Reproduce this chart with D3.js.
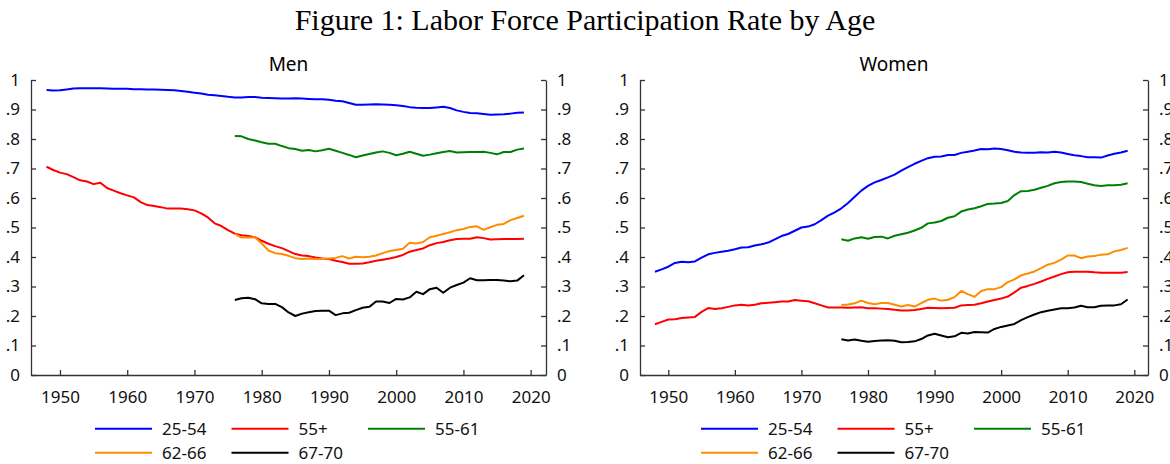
<!DOCTYPE html>
<html><head><meta charset="utf-8">
<script src="https://cdn.jsdelivr.net/npm/d3@7"></script>
<style>body{margin:0;background:#fff}svg{display:block}</style>
</head><body><svg id="c" width="1170" height="464"></svg>
<script>
const yTicks = [0,.1,.2,.3,.4,.5,.6,.7,.8,.9,1];
const yTickLabels = ["0",".1",".2",".3",".4",".5",".6",".7",".8",".9","1"];
const xTicks = [1950,1960,1970,1980,1990,2000,2010,2020];
const seriesNames = ["25-54","55+","55-61","62-66","67-70"];
const seriesColors = ["#0000ff","#ff0000","#008000","#ff8c00","#000000"];
const panelTitles = ["Men","Women"];
const startFull = 1948, startAge = 1976;

const men2554 = [.966,.964,.965,.968,.971,.972,.972,.972,.972,.971,.970,.970,.970,.969,.969,.968,.968,.967,.966,.965,.963,.960,.957,.954,.950,.948,.946,.943,.941,.941,.942,.942,.940,.939,.938,.937,.937,.938,.937,.936,.935,.935,.933,.930,.928,.922,.916,.916,.917,.918,.917,.916,.914,.912,.908,.906,.905,.905,.907,.909,.905,.897,.892,.888,.887,.885,.882,.883,.884,.886,.889,.890];
const men55p = [.706,.695,.686,.681,.671,.660,.656,.647,.652,.634,.625,.616,.609,.602,.586,.576,.573,.569,.564,.564,.564,.562,.558,.548,.534,.514,.505,.491,.479,.474,.471,.467,.455,.445,.437,.430,.420,.410,.405,.403,.398,.395,.393,.387,.383,.377,.377,.378,.382,.387,.391,.395,.400,.407,.418,.424,.429,.440,.447,.451,.457,.461,.462,.462,.467,.464,.459,.460,.461,.461,.461,.462];
const men5561 = [.810,.809,.800,.795,.789,.784,.784,.776,.769,.766,.760,.763,.758,.762,.767,.760,.753,.746,.738,.744,.749,.754,.758,.753,.745,.750,.757,.750,.743,.747,.752,.756,.759,.754,.755,.756,.756,.757,.753,.748,.756,.756,.764,.768];
const men6266 = [.478,.466,.466,.467,.446,.422,.413,.410,.404,.396,.393,.395,.393,.393,.395,.397,.403,.395,.401,.399,.401,.405,.413,.420,.424,.428,.448,.446,.451,.467,.472,.478,.484,.491,.495,.502,.504,.492,.501,.509,.512,.525,.532,.540];
const men6770 = [.254,.260,.262,.257,.243,.241,.241,.230,.212,.200,.208,.213,.217,.218,.218,.203,.209,.211,.220,.228,.231,.249,.249,.244,.258,.256,.263,.282,.274,.291,.296,.279,.296,.305,.313,.328,.321,.321,.322,.322,.320,.318,.320,.338];

const women2554 = [.350,.358,.367,.380,.384,.382,.385,.398,.409,.414,.418,.421,.426,.432,.433,.439,.443,.449,.460,.471,.478,.489,.500,.503,.511,.525,.540,.551,.565,.583,.604,.625,.641,.653,.661,.670,.679,.693,.705,.716,.726,.735,.740,.741,.746,.746,.753,.757,.761,.766,.765,.768,.766,.762,.757,.754,.753,.753,.755,.754,.757,.754,.749,.745,.742,.738,.738,.737,.744,.750,.754,.760];
const women55p = [.172,.180,.188,.189,.193,.195,.197,.214,.227,.224,.226,.231,.236,.238,.236,.238,.243,.245,.247,.249,.249,.254,.252,.250,.243,.236,.229,.229,.229,.228,.229,.230,.226,.226,.225,.224,.221,.219,.219,.220,.224,.228,.227,.226,.227,.228,.236,.237,.238,.243,.249,.254,.259,.266,.280,.296,.302,.309,.317,.326,.334,.342,.348,.350,.350,.350,.348,.347,.347,.347,.347,.349];
const women5561 = [.460,.455,.463,.467,.462,.468,.469,.463,.472,.477,.482,.490,.499,.514,.517,.522,.533,.538,.554,.561,.565,.572,.580,.581,.583,.590,.610,.623,.624,.628,.635,.641,.650,.654,.656,.656,.654,.648,.643,.641,.643,.643,.645,.650];
const women6266 = [.237,.239,.243,.252,.244,.240,.244,.244,.238,.232,.237,.232,.244,.255,.259,.252,.255,.264,.285,.274,.265,.285,.291,.291,.298,.315,.324,.338,.344,.351,.362,.374,.380,.391,.405,.405,.396,.402,.403,.408,.409,.419,.424,.431];
const women6770 = [.121,.117,.120,.116,.113,.115,.117,.118,.116,.111,.112,.114,.122,.134,.140,.134,.128,.131,.143,.141,.146,.145,.144,.156,.163,.168,.173,.186,.196,.205,.213,.218,.222,.226,.226,.229,.235,.230,.230,.235,.236,.236,.240,.256];

const panelsData = [
  [men2554, men55p, men5561, men6266, men6770],
  [women2554, women55p, women5561, women6266, women6770]
];
const seriesStart = [startFull, startFull, startAge, startAge, startAge];

const svg = d3.select("#c");
const sans = "'Noto Sans', 'Open Sans', sans-serif";

const title = svg.append("text").attr("x",585).attr("y",30).attr("text-anchor","middle")
  .style("font-family","'Liberation Serif', 'DejaVu Serif', serif").style("font-size","26px").style("fill","#000")
  .text("Figure 1: Labor Force Participation Rate by Age");
const tw = title.node().getComputedTextLength();
title.style("font-size", Math.min(30, 26*590/tw).toFixed(2)+"px");

const panels = [
  {x0:31, x1:546, d0:1945.69, d1:2022.28, legX:95},
  {x0:640, x1:1148, d0:1945.75, d1:2022.06, legX:701}
];
const yTop = 80, yBot = 375;
const y = d3.scaleLinear().domain([0,1]).range([yBot, yTop]);

panels.forEach((p, pi) => {
  const g = svg.append("g");
  const x = d3.scaleLinear().domain([p.d0, p.d1]).range([p.x0, p.x1]);

  g.append("text").attr("x",(p.x0+p.x1)/2).attr("y",71).attr("text-anchor","middle")
    .style("font-family",sans).style("font-size","19px").text(panelTitles[pi]);

  const axL = d3.axisLeft(y).tickValues(yTicks).tickFormat((d,i)=>yTickLabels[i]).tickSizeInner(-5).tickSizeOuter(0).tickPadding(11);
  const axR = d3.axisRight(y).tickValues(yTicks).tickFormat((d,i)=>yTickLabels[i]).tickSizeInner(-5).tickSizeOuter(0).tickPadding(11);
  const axB = d3.axisBottom(x).tickValues(xTicks).tickFormat(d3.format("d")).tickSizeInner(-5).tickSizeOuter(0).tickPadding(11);
  const gl = g.append("g").attr("transform",`translate(${p.x0},0)`).call(axL);
  const gr = g.append("g").attr("transform",`translate(${p.x1},0)`).call(axR);
  const gb = g.append("g").attr("transform",`translate(0,${yBot})`).call(axB);
  [gl,gr,gb].forEach(a=>{
    a.selectAll("path,line").attr("stroke","#333").attr("stroke-width",1.3);
    a.selectAll("text").style("font-family",sans).style("font-size","17px").attr("fill","#111");
  });
  gb.selectAll("text").attr("dy","1em");

  const series = panelsData[pi];
  series.forEach((vals, si) => {
    const pts = vals.map((v,i)=>({yr: seriesStart[si]+i, v}));
    const line = d3.line().x(d=>x(d.yr)).y(d=>y(d.v));
    g.append("path").datum(pts).attr("d", line).attr("fill","none")
      .attr("stroke", seriesColors[si]).attr("stroke-width",2).attr("stroke-linejoin","round");
  });

  const colStep = 136.5;
  seriesNames.forEach((nm, si) => {
    const col = si % 3, row = Math.floor(si/3);
    const lx = p.legX + col*colStep, ly = 428.7 + row*24;
    g.append("line").attr("x1",lx).attr("x2",lx+57).attr("y1",ly).attr("y2",ly)
      .attr("stroke",seriesColors[si]).attr("stroke-width",2);
    g.append("text").attr("x",lx+67).attr("y",ly+6).style("font-family",sans).style("font-size","17px")
      .attr("fill","#111").text(nm);
  });
});
</script></body></html>
